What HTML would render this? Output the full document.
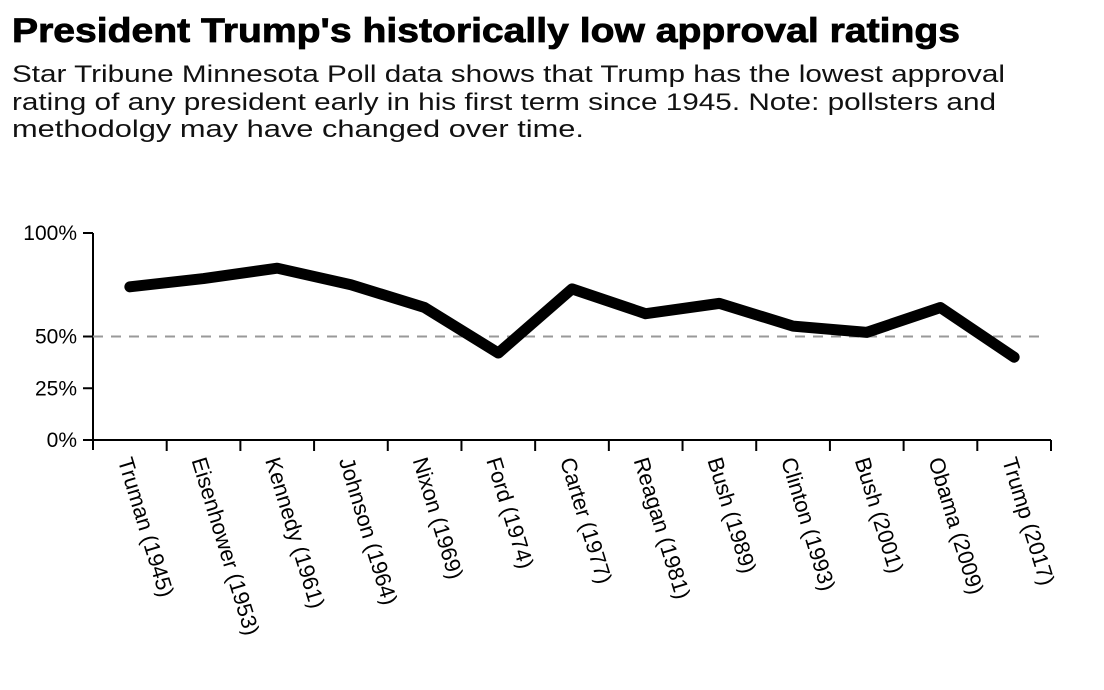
<!DOCTYPE html>
<html><head><meta charset="utf-8"><style>
html,body{margin:0;padding:0;background:#fff;width:1104px;height:690px;overflow:hidden}
svg{display:block;font-family:"Liberation Sans",sans-serif}
</style></head><body>
<svg id="chart" width="1104" height="690" viewBox="0 0 1104 690">
<text x="12" y="42" font-size="34" font-weight="bold" fill="#000" textLength="948" lengthAdjust="spacingAndGlyphs" stroke="#000" stroke-width="0.8">President Trump's historically low approval ratings</text>
<text x="12" y="82" font-size="24" fill="#111" textLength="993" lengthAdjust="spacingAndGlyphs">Star Tribune Minnesota Poll data shows that Trump has the lowest approval</text>
<text x="12" y="110" font-size="24" fill="#111" textLength="984" lengthAdjust="spacingAndGlyphs">rating of any president early in his first term since 1945. Note: pollsters and</text>
<text x="12" y="137" font-size="24" fill="#111" textLength="572" lengthAdjust="spacingAndGlyphs">methodolgy may have changed over time.</text>
<g id="plot"></g>
</svg>
<script>
const categories=["Truman (1945)","Eisenhower (1953)","Kennedy (1961)","Johnson (1964)","Nixon (1969)","Ford (1974)","Carter (1977)","Reagan (1981)","Bush (1989)","Clinton (1993)","Bush (2001)","Obama (2009)","Trump (2017)"];
const approval=[74,78,83,75,64,42,73,61,66,55,52,64,40];
const yTicks=[0,25,50,100];
const yTickLabels=["0%","25%","50%","100%"];
const refLine=50;

const NS="http://www.w3.org/2000/svg";
const g=document.getElementById('plot');
const X0=93,X1=1051,Y0=440,Y1=233;
const bw=(X1-X0)/categories.length;
const xs=i=>X0+bw*(i+0.5);
const ys=v=>Y0-(v/100)*(Y0-Y1);
function mk(t,a){const e=document.createElementNS(NS,t);for(const k in a)e.setAttribute(k,a[k]);g.appendChild(e);return e;}

const yAxis=mk('line',{x1:X0,y1:Y1,x2:X0,y2:Y0+10,stroke:'#000','stroke-width':2});


const xAxis=mk('line',{x1:X0-8,y1:Y0,x2:X1,y2:Y0,stroke:'#000','stroke-width':2});



yTicks.forEach((v,i)=>{
  const t=mk('line',{x1:X0-10,y1:ys(v),x2:X0,y2:ys(v),stroke:'#000','stroke-width':2});
  
  
  const l=mk('text',{x:X0-16,y:ys(v)+7,'text-anchor':'end','font-size':21,fill:'#000'});
  l.textContent=yTickLabels[i];
  
  
});

const ref=mk('line',{x1:X0,y1:ys(refLine),x2:X1-6,y2:ys(refLine),stroke:'#999','stroke-width':2,'stroke-dasharray':'10 8'});



for(let i=1;i<=categories.length;i++){
  const x=X0+bw*i;
  const t=mk('line',{x1:x,y1:Y0,x2:x,y2:Y0+11,stroke:'#000','stroke-width':2});
  
  
}
categories.forEach((c,i)=>{
  const x=xs(i)-5,y=458;
  const l=mk('text',{x:x,y:y,'font-size':22,fill:'#000',transform:`rotate(73 ${x} ${y})`,'dominant-baseline':'central'});
  l.textContent=c;
  
  
});

const pts=approval.map((v,i)=>xs(i)+','+ys(v)).join(' ');
const line=mk('polyline',{points:pts,fill:'none',stroke:'#000','stroke-width':11,'stroke-linejoin':'round','stroke-linecap':'round'});


</script>
</body></html>
